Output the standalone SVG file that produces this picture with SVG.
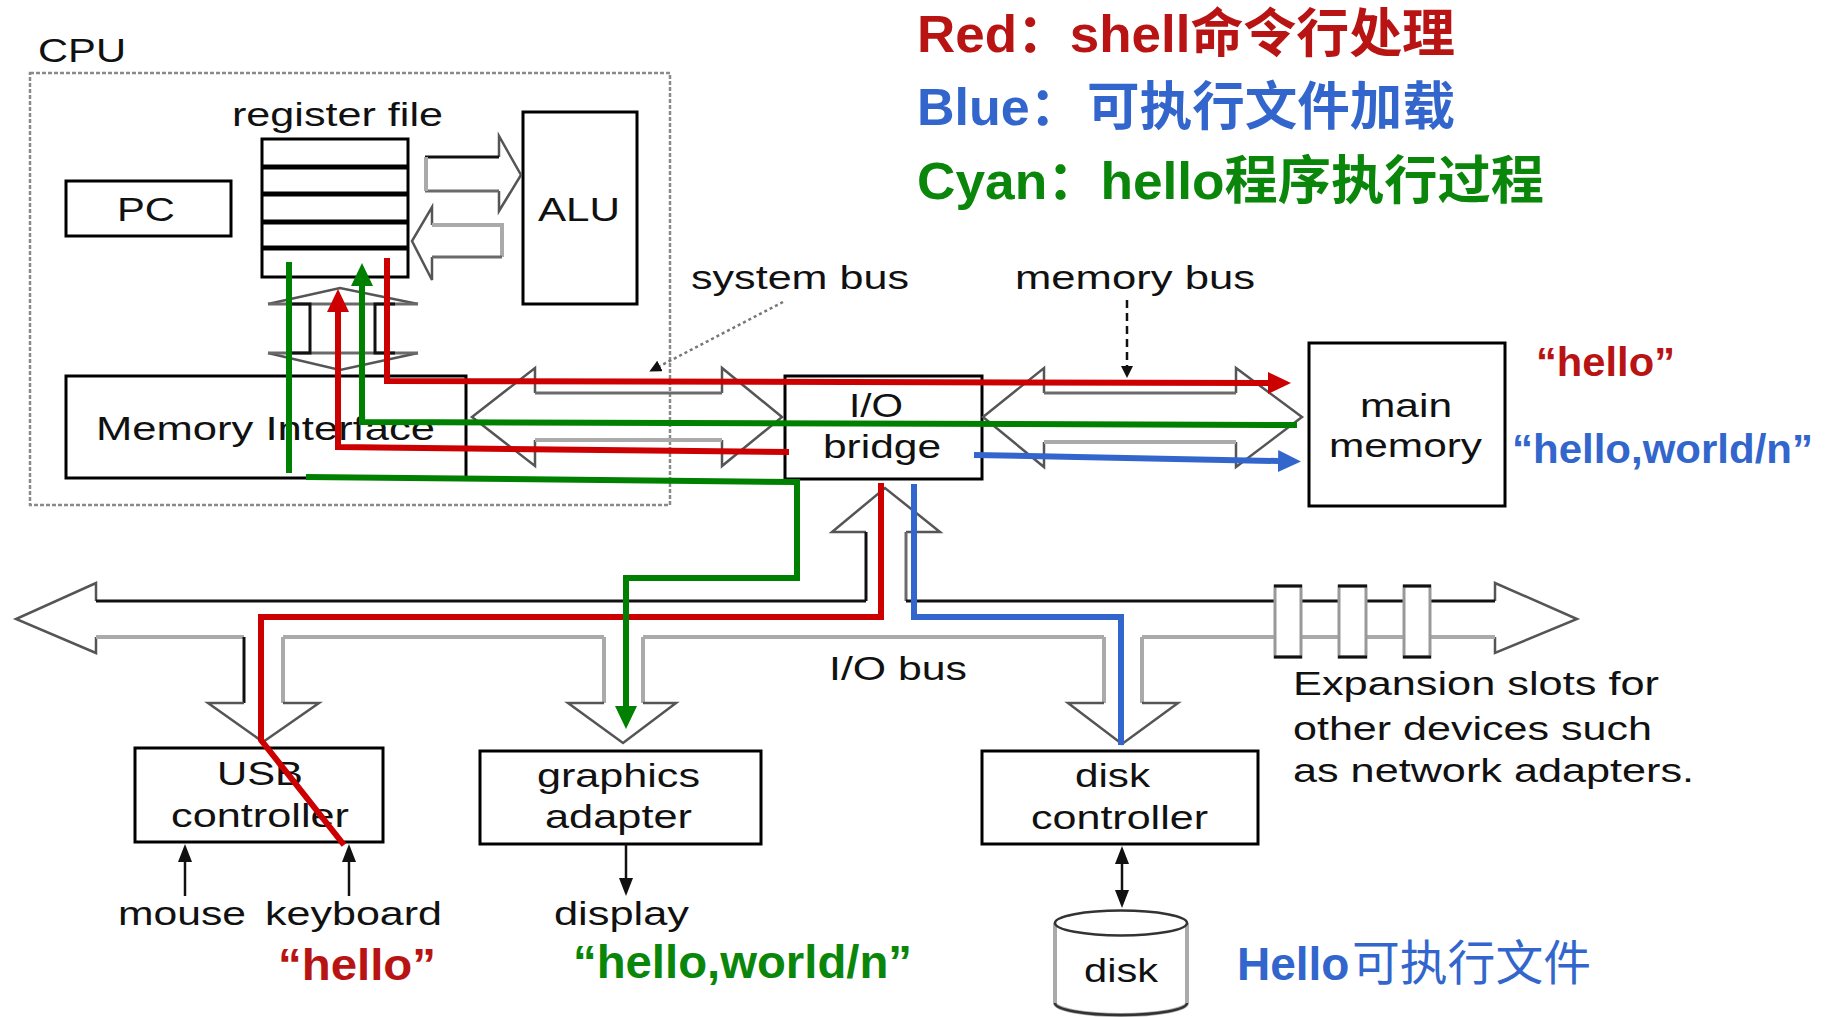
<svg xmlns="http://www.w3.org/2000/svg" width="1834" height="1017" viewBox="0 0 1834 1017">
  <defs>
    <style>
      .box{fill:none;stroke:#000;stroke-width:3}
      .fig{font-family:"Liberation Sans",Arial,sans-serif;font-size:34px;fill:#111}
      .head{fill:none;stroke:#555;stroke-width:2.5;stroke-linejoin:miter}
      .sd{fill:none;stroke:#6a6a6a;stroke-width:3}
      .sl{fill:none;stroke:#aaa;stroke-width:4}
      .blk{fill:none;stroke:#111;stroke-width:3}
      .lbl{font-family:"Liberation Sans","Noto Sans CJK SC",sans-serif;font-weight:bold}
      .flow{fill:none;stroke-width:6;stroke-linejoin:miter}
      .r{stroke:#cc0000}
      .g{stroke:#008000}
      .b{stroke:#3366cc}
      .ptr{fill:none;stroke:#111;stroke-width:2.5}
    </style>
    <marker id="ah-r" markerUnits="userSpaceOnUse" viewBox="0 0 23 22" markerWidth="23" markerHeight="22" refX="0" refY="11" orient="auto"><path d="M0,0 L23,11 L0,22 z" fill="#cc0000"/></marker>
    <marker id="ah-g" markerUnits="userSpaceOnUse" viewBox="0 0 23 22" markerWidth="23" markerHeight="22" refX="0" refY="11" orient="auto"><path d="M0,0 L23,11 L0,22 z" fill="#008000"/></marker>
    <marker id="ah-b" markerUnits="userSpaceOnUse" viewBox="0 0 23 22" markerWidth="23" markerHeight="22" refX="0" refY="11" orient="auto"><path d="M0,0 L23,11 L0,22 z" fill="#3366cc"/></marker>
    <marker id="ah-k" markerUnits="userSpaceOnUse" viewBox="0 0 18 14" markerWidth="18" markerHeight="14" refX="0" refY="7" orient="auto-start-reverse"><path d="M0,0 L18,7 L0,14 z" fill="#111"/></marker>
    <marker id="ah-s" markerUnits="userSpaceOnUse" viewBox="0 0 12 12" markerWidth="12" markerHeight="12" refX="0" refY="6" orient="auto"><path d="M0,0 L12,6 L0,12 z" fill="#111"/></marker>
  </defs>

  <rect width="1834" height="1017" fill="#fff"/>

  <!-- legend -->
  <g id="legend" class="lbl" font-size="52">
    <text x="917" y="52" fill="#b81414" textLength="538" lengthAdjust="spacingAndGlyphs">Red：shell命令行处理</text>
    <text x="917" y="125" fill="#3366cc">Blue：</text>
    <text x="1087" y="125" fill="#3366cc" textLength="368" lengthAdjust="spacingAndGlyphs">可执行文件加载</text>
    <text x="917" y="199" fill="#0a860a" textLength="627" lengthAdjust="spacingAndGlyphs">Cyan：hello程序执行过程</text>
  </g>

  <!-- CPU chip -->
  <g id="cpu">
    <rect x="30" y="73" width="640" height="432" fill="none" stroke="#8a8a8a" stroke-width="2.5" stroke-dasharray="4 2"/>
    <text class="fig" x="38" y="62" font-size="35" textLength="88" lengthAdjust="spacingAndGlyphs">CPU</text>
  </g>

  <g id="pc">
    <rect class="box" x="66" y="181" width="165" height="55"/>
    <text class="fig" x="117" y="221" font-size="36" textLength="58" lengthAdjust="spacingAndGlyphs">PC</text>
  </g>

  <g id="register-file">
    <text class="fig" x="232" y="126" font-size="33" textLength="211" lengthAdjust="spacingAndGlyphs">register file</text>
    <rect class="box" x="262" y="139" width="146" height="138"/>
    <g stroke="#000" stroke-width="5">
      <line x1="262" y1="167" x2="408" y2="167"/>
      <line x1="262" y1="194" x2="408" y2="194"/>
      <line x1="262" y1="222" x2="408" y2="222"/>
      <line x1="262" y1="248" x2="408" y2="248"/>
    </g>
  </g>

  <g id="alu">
    <rect class="box" x="523" y="112" width="114" height="192"/>
    <text class="fig" x="538" y="221" font-size="36" textLength="82" lengthAdjust="spacingAndGlyphs">ALU</text>
  </g>

  <g id="memory-interface">
    <rect class="box" x="66" y="376" width="400" height="102"/>
    <text class="fig" x="96" y="440" font-size="35" fill="#222" textLength="339" lengthAdjust="spacingAndGlyphs">Memory Interface</text>
  </g>

  <g id="io-bridge">
    <rect class="box" x="785" y="376" width="197" height="103"/>
    <text class="fig" x="849" y="417" font-size="35" textLength="54" lengthAdjust="spacingAndGlyphs">I/O</text>
    <text class="fig" x="823" y="458" font-size="35" textLength="118" lengthAdjust="spacingAndGlyphs">bridge</text>
  </g>

  <g id="main-memory">
    <rect class="box" x="1309" y="343" width="196" height="163"/>
    <text class="fig" x="1360" y="417" textLength="92" lengthAdjust="spacingAndGlyphs">main</text>
    <text class="fig" x="1329" y="457" textLength="153" lengthAdjust="spacingAndGlyphs">memory</text>
  </g>

  <g id="usb-controller">
    <rect class="box" x="135" y="748" width="248" height="94"/>
    <text class="fig" x="217" y="785" textLength="86" lengthAdjust="spacingAndGlyphs">USB</text>
    <text class="fig" x="171" y="827" textLength="178" lengthAdjust="spacingAndGlyphs">controller</text>
  </g>

  <g id="graphics-adapter">
    <rect class="box" x="480" y="751" width="281" height="93"/>
    <text class="fig" x="537" y="787" textLength="163" lengthAdjust="spacingAndGlyphs">graphics</text>
    <text class="fig" x="545" y="828" textLength="147" lengthAdjust="spacingAndGlyphs">adapter</text>
  </g>

  <g id="disk-controller">
    <rect class="box" x="982" y="751" width="276" height="93"/>
    <text class="fig" x="1075" y="787" textLength="75" lengthAdjust="spacingAndGlyphs">disk</text>
    <text class="fig" x="1031" y="829" textLength="177" lengthAdjust="spacingAndGlyphs">controller</text>
  </g>

  <g id="disk">
    <path d="M1055,923 L1055,1003 A66,12 0 0 0 1187,1003 L1187,923" fill="#fff" stroke="#aaa" stroke-width="4"/>
    <ellipse cx="1121" cy="923" rx="66" ry="12.5" fill="#fff" stroke="#333" stroke-width="2.5"/>
    <path d="M1055,1003 A66,12 0 0 0 1187,1003" fill="none" stroke="#333" stroke-width="2.5"/>
    <text class="fig" x="1084" y="982" font-size="35" textLength="74" lengthAdjust="spacingAndGlyphs">disk</text>
  </g>

  <g id="peripherals">
    <text class="fig" x="118" y="925" textLength="128" lengthAdjust="spacingAndGlyphs">mouse</text>
    <text class="fig" x="265" y="925" textLength="177" lengthAdjust="spacingAndGlyphs">keyboard</text>
    <text class="fig" x="554" y="925" textLength="135" lengthAdjust="spacingAndGlyphs">display</text>
  </g>

  <g id="expansion-note" class="fig" font-size="33">
    <text x="1293" y="695" textLength="366" lengthAdjust="spacingAndGlyphs">Expansion slots for</text>
    <text x="1293" y="740" textLength="359" lengthAdjust="spacingAndGlyphs">other devices such</text>
    <text x="1293" y="782" textLength="401" lengthAdjust="spacingAndGlyphs">as network adapters.</text>
  </g>

  <!-- bus labels -->
  <g id="bus-labels" class="fig" font-size="32">
    <text x="691" y="289" textLength="218" lengthAdjust="spacingAndGlyphs">system bus</text>
    <text x="1015" y="289" textLength="240" lengthAdjust="spacingAndGlyphs">memory bus</text>
    <text x="829" y="680" font-size="33" textLength="138" lengthAdjust="spacingAndGlyphs">I/O bus</text>
  </g>

  <!-- data labels -->
  <g id="data-labels" class="lbl">
    <text x="1536" y="376" font-size="41" fill="#b81414" textLength="139" lengthAdjust="spacingAndGlyphs">“hello”</text>
    <text x="1512" y="463" font-size="41" fill="#3366cc" textLength="301" lengthAdjust="spacingAndGlyphs">“hello,world/n”</text>
    <text x="278" y="980" font-size="45" fill="#b81414" textLength="158" lengthAdjust="spacingAndGlyphs">“hello”</text>
    <text x="573" y="978" font-size="46" fill="#0a860a" textLength="339" lengthAdjust="spacingAndGlyphs">“hello,world/n”</text>
    <text x="1237" y="980" font-size="46" fill="#3366cc">Hello</text>
    <text x="1352" y="980" font-size="48" font-weight="normal" fill="#3366cc" textLength="239" lengthAdjust="spacingAndGlyphs">可执行文件</text>
  </g>

  <!-- connectors: buses, pointers and data paths -->
  <g id="connectors">
    <!-- register file <-> ALU -->
    <polyline class="head" points="499,157 499,136 521,175 499,211 499,191"/>
    <line class="blk" x1="425" y1="157" x2="499" y2="157"/>
    <line class="sd" x1="425" y1="191" x2="499" y2="191"/>
    <line class="sl" x1="426" y1="157" x2="426" y2="191"/>
    <polyline class="head" points="432,225 432,207 412,241 432,280 432,257"/>
    <polyline class="sl" points="432,225 502,225 502,257"/>
    <line class="sd" x1="432" y1="257" x2="502" y2="257"/>

    <!-- register file <-> memory interface -->
    <polyline class="head" points="268,304 340,288 418,304"/>
    <polyline class="head" points="268,353 340,370 418,353"/>
    <line class="sd" x1="268" y1="304" x2="418" y2="304" stroke="#999"/>
    <line class="sd" x1="268" y1="353" x2="418" y2="353" stroke="#999"/>
    <polyline class="blk" points="290,304 310,304 310,353 290,353"/>
    <polyline class="blk" points="395,304 375,304 375,353 395,353"/>

    <!-- system bus -->
    <polyline class="head" points="535,393 535,368 472,417 535,466 535,440"/>
    <polyline class="head" points="722,393 722,368 782,417 722,466 722,440"/>
    <line class="sd" x1="535" y1="393" x2="722" y2="393"/>
    <line class="sl" x1="535" y1="440" x2="722" y2="440"/>

    <!-- memory bus -->
    <polyline class="head" points="1044,393 1044,368 983,417 1044,467 1044,442"/>
    <polyline class="head" points="1236,393 1236,368 1302,417 1236,467 1236,442"/>
    <line class="sd" x1="1044" y1="393" x2="1236" y2="393"/>
    <line class="sl" x1="1044" y1="442" x2="1236" y2="442"/>

    <!-- bus pointers -->
    <line x1="783" y1="302" x2="660" y2="366" stroke="#777" stroke-width="2.5" stroke-dasharray="3 3" marker-end="url(#ah-s)"/>
    <line class="ptr" x1="1127" y1="300" x2="1127" y2="366" stroke-dasharray="8 5" marker-end="url(#ah-s)"/>

    <!-- bridge to I/O bus -->
    <polyline class="head" points="866,532 832,532 885,488 940,532 906,532"/>
    <line class="blk" x1="866" y1="532" x2="866" y2="601"/>
    <line class="sd" x1="906" y1="532" x2="906" y2="601"/>

    <!-- I/O bus -->
    <polyline class="head" points="96,601 96,583 16,619 96,653 96,637"/>
    <polyline class="head" points="1495,601 1495,583 1577,619 1495,653 1495,637"/>
    <polyline class="blk" points="96,601 866,601"/>
    <polyline class="blk" points="906,601 1495,601"/>
    <line class="sl" x1="96" y1="637" x2="244" y2="637"/>
    <line class="sl" x1="283" y1="637" x2="604" y2="637"/>
    <line class="sl" x1="643" y1="637" x2="1104" y2="637"/>
    <line class="sl" x1="1142" y1="637" x2="1495" y2="637"/>

    <!-- expansion slots -->
    <rect x="1275" y="586" width="26" height="71" fill="#fff" stroke="#999" stroke-width="3"/>
    <rect x="1339" y="586" width="27" height="71" fill="#fff" stroke="#999" stroke-width="3"/>
    <rect x="1404" y="586" width="26" height="71" fill="#fff" stroke="#999" stroke-width="3"/>
    <g stroke="#111" stroke-width="3">
      <line x1="1274" y1="586" x2="1302" y2="586"/><line x1="1274" y1="657" x2="1302" y2="657"/>
      <line x1="1338" y1="586" x2="1367" y2="586"/><line x1="1338" y1="657" x2="1367" y2="657"/>
      <line x1="1403" y1="586" x2="1431" y2="586"/><line x1="1403" y1="657" x2="1431" y2="657"/>
    </g>

    <!-- I/O bus to devices -->
    <line class="blk" x1="244" y1="637" x2="244" y2="703"/>
    <line class="sl" x1="283" y1="637" x2="283" y2="703"/>
    <polyline class="head" points="244,703 208,703 263,742 319,703 283,703"/>
    <line class="sl" x1="604" y1="637" x2="604" y2="703"/>
    <line class="sl" x1="643" y1="637" x2="643" y2="703"/>
    <polyline class="head" points="604,703 568,703 623,743 676,703 643,703"/>
    <line class="sl" x1="1104" y1="637" x2="1104" y2="703"/>
    <line class="sl" x1="1142" y1="637" x2="1142" y2="703"/>
    <polyline class="head" points="1104,703 1068,703 1122,744 1178,703 1142,703"/>

    <!-- device links -->
    <line class="ptr" x1="185" y1="896" x2="185" y2="862" marker-end="url(#ah-k)"/>
    <line class="ptr" x1="349" y1="896" x2="349" y2="862" marker-end="url(#ah-k)"/>
    <line class="ptr" x1="626" y1="844" x2="626" y2="878" marker-end="url(#ah-k)"/>
    <line class="ptr" x1="1122" y1="864" x2="1122" y2="890" marker-start="url(#ah-k)" marker-end="url(#ah-k)"/>

    <!-- red: shell command input -->
    <polyline class="flow r" points="344,845 261,740 261,617 881,617 881,483"/>
    <polyline class="flow r" points="789,452 338,447 338,312" marker-end="url(#ah-r)"/>
    <polyline class="flow r" points="387,258 387,381 1268,383" marker-end="url(#ah-r)"/>

    <!-- blue: loading the executable -->
    <polyline class="flow b" points="914,484 914,617 1121,617 1121,745"/>
    <polyline class="flow b" points="974,455 1278,461" marker-end="url(#ah-b)"/>

    <!-- green: running hello -->
    <polyline class="flow g" points="1297,425 362,422 362,286" marker-end="url(#ah-g)"/>
    <line class="flow g" x1="289" y1="262" x2="289" y2="473"/>
    <polyline class="flow g" points="306,477 797,482 797,578 626,578 626,706" marker-end="url(#ah-g)"/>
  </g>
</svg>
